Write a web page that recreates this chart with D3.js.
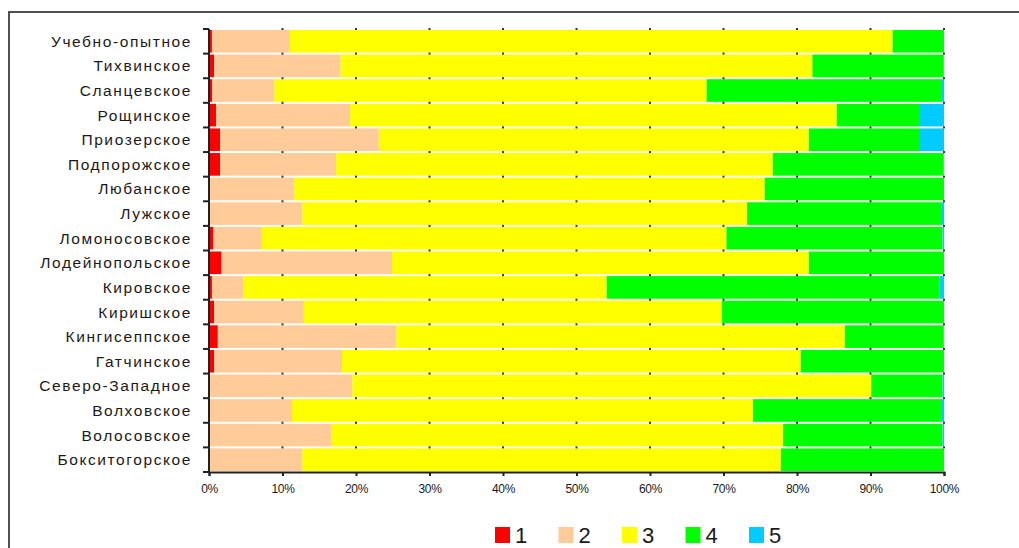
<!DOCTYPE html>
<html>
<head>
<meta charset="utf-8">
<script src="https://cdn.jsdelivr.net/npm/d3@7"></script>
<style>
  body { margin: 0; background: #fff; }
  svg { display: block; font-family: "Liberation Sans", Arial, sans-serif; }
</style>
</head>
<body>
<svg id="chart" width="1019" height="548"></svg>
<script>
// categories, top to bottom
var categories = ['Учебно-опытное', 'Тихвинское', 'Сланцевское', 'Рощинское', 'Приозерское',
  'Подпорожское', 'Любанское', 'Лужское', 'Ломоносовское', 'Лодейнопольское', 'Кировское',
  'Киришское', 'Кингисеппское', 'Гатчинское', 'Северо-Западное', 'Волховское', 'Волосовское',
  'Бокситогорское'];
var seriesNames = ['1', '2', '3', '4', '5'];
var colors = ['#ff0000', '#ffcc99', '#ffff00', '#00ff00', '#00ccff'];

// shares (%) per category
var s1 = [0.4, 0.7, 0.45, 0.95, 1.5, 1.5, 0, 0, 0.6, 1.7, 0.4, 0.7, 1.2, 0.7, 0, 0, 0, 0];
var s2 = [10.6, 17.2, 8.45, 18.25, 21.6, 15.8, 11.6, 12.7, 6.6, 23.2, 4.3, 12.2, 24.3, 17.4, 19.5, 11.3, 16.7, 12.7];
var s3 = [82.0, 64.2, 58.8, 66.2, 58.5, 59.4, 64.0, 60.5, 63.2, 56.7, 49.4, 56.9, 61.0, 62.4, 70.6, 62.7, 61.4, 65.1];
var s4 = [7.0, 17.8, 31.9, 11.2, 15.0, 23.2, 24.4, 26.4, 29.4, 18.4, 45.3, 30.2, 13.4, 19.5, 9.7, 25.6, 21.7, 22.2];
var s5 = [0, 0.1, 0.4, 3.4, 3.4, 0.1, 0, 0.4, 0.2, 0, 0.6, 0, 0.1, 0, 0.2, 0.4, 0.2, 0];
var xTicks = [0, 0.1, 0.2, 0.3, 0.4, 0.5, 0.6, 0.7, 0.8, 0.9, 1];

var table = categories.map(function(c, i) {
  return { cat: c, '1': s1[i], '2': s2[i], '3': s3[i], '4': s4[i], '5': s5[i] };
});

var svg = d3.select('#chart');
var plotLeft = 209, plotRight = 944, plotTop = 29, plotBottom = 472;

var x = d3.scaleLinear().domain([0, 1]).range([plotLeft, plotRight]);
var y = d3.scaleBand().domain(categories).range([plotTop, plotBottom]).paddingInner(0.08).paddingOuter(0.04);
var yb = d3.scaleBand().domain(categories).range([plotTop, plotBottom]);

var stacked = d3.stack().keys(seriesNames).offset(d3.stackOffsetExpand)(table);

// outer frame
svg.append('path')
  .attr('d', 'M9,548V12H1019')
  .attr('fill', 'none')
  .attr('stroke', '#505050')
  .attr('stroke-width', 2);

// bars
svg.append('g').selectAll('g')
  .data(stacked)
  .enter().append('g')
  .attr('fill', function(d, i) { return colors[i]; })
  .selectAll('rect')
  .data(function(d) { return d; })
  .enter().append('rect')
  .attr('x', function(d) { return x(d[0]); })
  .attr('width', function(d) { return Math.max(0, x(d[1]) - x(d[0])); })
  .attr('y', function(d) { return y(d.data.cat); })
  .attr('height', y.bandwidth());

// grid dots in the gaps between bars
var dots = [];
categories.forEach(function(c) {
  xTicks.slice(1).forEach(function(t) { dots.push([t, yb(c)]); });
});
svg.append('g').selectAll('rect')
  .data(dots)
  .enter().append('rect')
  .attr('x', function(d) { return x(d[0]) - 1; })
  .attr('y', function(d) { return d[1] - 1; })
  .attr('width', 2).attr('height', 2)
  .attr('fill', '#333');

// y axis: line and boundary ticks
var yAxis = svg.append('g');
yAxis.append('line')
  .attr('x1', plotLeft).attr('x2', plotLeft).attr('y1', plotTop).attr('y2', plotBottom)
  .attr('stroke', '#222').attr('stroke-width', 2);
yAxis.selectAll('line.tick')
  .data(categories.concat(['end']))
  .enter().append('line')
  .attr('class', 'tick')
  .attr('x1', plotLeft - 6).attr('x2', plotLeft)
  .attr('y1', function(d) { return d === 'end' ? plotBottom : yb(d); })
  .attr('y2', function(d) { return d === 'end' ? plotBottom : yb(d); })
  .attr('stroke', '#222').attr('stroke-width', 2);
yAxis.selectAll('text')
  .data(categories)
  .enter().append('text')
  .attr('x', 192)
  .attr('y', function(d) { return yb(d) + yb.bandwidth() / 2 + 5.5; })
  .attr('text-anchor', 'end')
  .attr('font-size', 15.5)
  .attr('letter-spacing', 1.6)
  .attr('fill', '#1a1a1a')
  .text(function(d) { return d; });

// x axis
var xAxis = svg.append('g')
  .attr('transform', 'translate(0,' + plotBottom + ')')
  .call(d3.axisBottom(x).tickValues(xTicks).tickFormat(d3.format('.0%')).tickSize(4).tickPadding(8));
xAxis.select('.domain').attr('stroke', '#222').attr('stroke-width', 2);
xAxis.selectAll('.tick line').attr('stroke', '#222').attr('stroke-width', 2);
xAxis.selectAll('.tick text')
  .attr('font-size', 12)
  .attr('font-family', '"Liberation Sans", Arial, sans-serif')
  .attr('letter-spacing', -0.3)
  .attr('fill', '#1a1a1a');

// legend
var legend = svg.append('g').selectAll('g')
  .data(seriesNames)
  .enter().append('g')
  .attr('transform', function(d, i) { return 'translate(' + (495 + i * 63.5) + ',527)'; });
legend.append('rect')
  .attr('width', 15).attr('height', 16)
  .attr('fill', function(d, i) { return colors[i]; });
legend.append('text')
  .attr('x', 20).attr('y', 16)
  .attr('font-size', 22)
  .attr('fill', '#1a1a1a')
  .text(function(d) { return d; });
</script>
</body>
</html>
